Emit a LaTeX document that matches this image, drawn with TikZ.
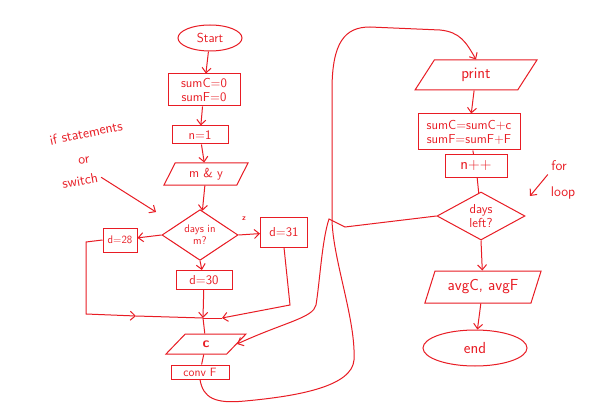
\documentclass[tikz,border=0pt]{standalone}
\usepackage{tikz}
\usetikzlibrary{arrows.meta,shapes.geometric}
\definecolor{penred}{RGB}{232,28,36}

\tikzset{
  pen/.style={draw=penred,line width=1pt},
  box/.style={pen,rectangle,inner sep=2pt,align=center},
  io/.style={pen,trapezium,trapezium left angle=65,trapezium right angle=115,trapezium stretches=true,inner sep=1pt},
  choice/.style={pen,diamond,inner sep=0pt,align=center},
  term/.style={pen,ellipse,inner sep=1pt},
  flow/.style={penred,line width=1pt,-{Straight Barb[length=5pt,width=9pt]}},
  link/.style={penred,line width=1pt},
  scribble/.style={text=penred,font=\sffamily\fontsize{14}{15}\selectfont},
  big/.style={font=\sffamily\fontsize{16}{17}\selectfont},
}

\begin{document}
\begin{tikzpicture}[x=1pt,y=-1pt,every node/.style={text=penred,font=\sffamily\fontsize{13}{14}\selectfont}]
\useasboundingbox[fill=white] (0,0) rectangle (589,417);

\node[term,minimum width=64pt,minimum height=26pt] (start) at (210,38) {Start};
\node[box,minimum width=72pt,minimum height=32pt] (init) at (204,90) {sumC=0\\sumF=0};
\node[box,minimum width=56pt,minimum height=18pt] (nset) at (200,135) {n=1};
\node[io,minimum width=84pt,minimum height=22pt] (readmy) at (206,174) {m \& y};
\node[choice,minimum width=76pt,minimum height=46pt,font=\sffamily\fontsize{11}{12}\selectfont] (days) at (200,235) {days in\\m?};
\node[box,minimum width=34pt,minimum height=24pt,inner sep=1pt,font=\sffamily\fontsize{11}{12}\selectfont] (d28) at (120,240) {d=28};
\node[box,minimum width=47pt,minimum height=30pt] (d31) at (284,232) {d=31};
\node[box,minimum width=56pt,minimum height=19pt] (d30) at (204,280) {d=30};
\node[io,minimum width=80pt,minimum height=20pt,font=\sffamily\bfseries\fontsize{14}{15}\selectfont] (readc) at (206,344) {c};
\node[box,minimum width=58pt,minimum height=14pt,inner sep=1pt,font=\sffamily\fontsize{12}{13}\selectfont] (conv) at (200,372) {conv F};
\node[font=\sffamily\bfseries\footnotesize] (zlbl) at (244,219) {z};

\node[io,big,minimum width=122pt,minimum height=30pt] (printio) at (476,75) {print};
\node[box,minimum width=102pt,minimum height=36pt] (sums) at (469,132) {sumC=sumC+c\\sumF=sumF+F};
\node[box,big,minimum width=62pt,minimum height=22pt] (ninc) at (476,166) {n++};
\node[choice,minimum width=88pt,minimum height=48pt] (check) at (481,216) {days\\left?};
\node[io,big,minimum width=117pt,minimum height=32pt] (avg) at (483,287) {avgC, avgF};
\node[term,big,minimum width=104pt,minimum height=36pt] (finish) at (475,348) {end};

\node[scribble,rotate=12] (note1) at (86,133) {if statements};
\node[scribble,rotate=8] (note2) at (84,161) {or};
\node[scribble,rotate=10] (note3) at (80,181) {switch};
\coordinate (hint) at (156,212);
\node[scribble] (note4) at (559,166) {for};
\node[scribble] (note5) at (563,193) {loop};
\coordinate (loophint) at (530,196);

\coordinate (join) at (203,318);
\coordinate (in28) at (136,316);
\coordinate (in31) at (222,318);

\draw[flow] (start) -- (init);
\draw[flow] (init) -- (nset);
\draw[flow] (nset) -- (readmy);
\draw[flow] (readmy) -- (days);
\draw[flow] (days.west) -- (d28);
\draw[flow] (days.east) -- (d31);
\draw[flow] (days.south) -- (d30);
\draw[flow] (d28.west) -- (86,242) -- (86,314) -- (in28);
\draw[link] (in28) -- (join);
\draw[flow] (d31.south) -- (290,305) -- (in31);
\draw[link] (in31) -- (join);
\draw[flow] (d30) -- (join);
\draw[link] (join) -- (readc);
\draw[link] (readc) -- (conv);
\draw[flow] (conv.south) .. controls (203,398) and (215,404) .. (245,401) .. controls (300,396) and (352,386) .. (354,360) .. controls (356,320) and (333,260) .. (332,220) -- (332,90) .. controls (332,42) and (345,27) .. (370,27) -- (440,30) .. controls (460,32) and (466,42) .. (printio.north);
\draw[flow] (check.west) -- (345,227) -- (329,219) .. controls (322,240) and (320,280) .. (316,305) .. controls (313,318) and (285,322) .. (readc.east);

\draw[flow] (printio) -- (sums);
\draw[link] (sums) -- (ninc);
\draw[link] (ninc) -- (check);
\draw[flow] (check.south) -- (avg);
\draw[flow] (avg) -- (finish);

\draw[flow] (note3.east) -- (hint);
\draw[flow] (note4.south west) -- (loophint);
\end{tikzpicture}
\end{document}
